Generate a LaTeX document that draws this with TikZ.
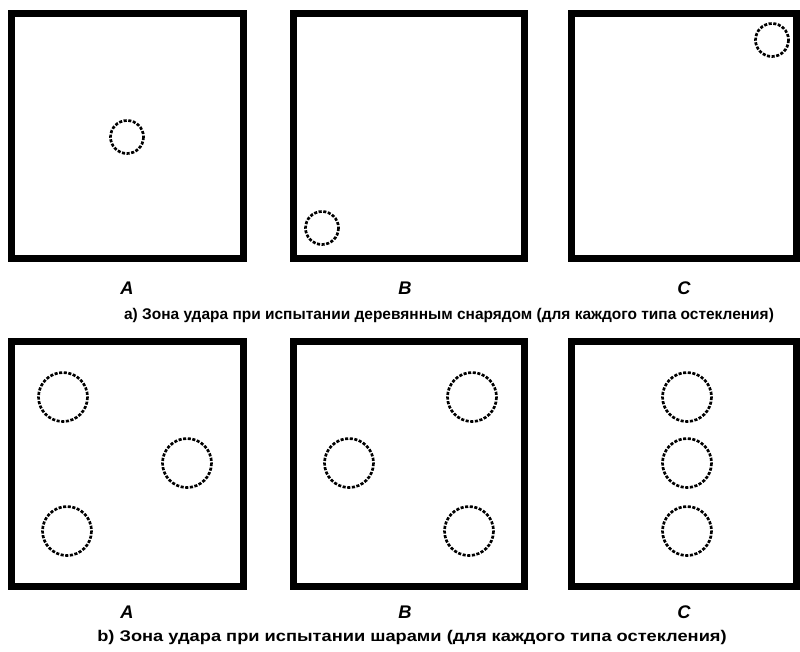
\documentclass[tikz,border=0pt]{standalone}
\usepackage{fontspec}
\setmainfont{Liberation Sans}
\usepackage{tikz}
\usetikzlibrary{positioning}

\begin{document}
\begin{tikzpicture}[x=0.025cm, y=-0.025cm,
  pane/.style={draw, line width=5pt},
  zone/.style={draw, line width=1.9pt, dash pattern=on 2.2pt off 1.1pt},
  tag/.style={font=\bfseries\itshape\fontsize{13}{13}\selectfont},
  caption/.style={font=\bfseries\fontsize{11}{12}\selectfont}]
  \useasboundingbox (0,0) rectangle (800,651);

  % a) wooden projectile
  \draw[pane] (11.5,13.5) rectangle (243.5,258.5);
  \draw[pane] (293.5,13.5) rectangle (524.5,258.5);
  \draw[pane] (571.5,13.5) rectangle (796.5,258.5);
  \draw[zone] (127,137) circle (16.5);
  \draw[zone] (322,228) circle (16.5);
  \draw[zone] (772,40) circle (16.5);

  \node[tag] (a1) at (127,288) {A};
  \node[tag] (b1) at (405,288) {B};
  \node[tag] (c1) at (684,288) {C};
  \node[caption] (capa) at (449,315)
    {а) Зона удара при испытании деревянным снарядом (для каждого типа остекления)};

  % b) balls
  \draw[pane] (11.5,341.5) rectangle (243.5,586.5);
  \draw[pane] (293.5,341.5) rectangle (524.5,586.5);
  \draw[pane] (571.5,341.5) rectangle (796.5,586.5);
  \foreach \cx/\cy in {63/397, 187/463, 67/531,
                       472/397, 349/463, 469/531,
                       687/397, 687/463, 687/531}
    \draw[zone] (\cx,\cy) circle (24.5);

  \node[tag] (a2) at (127,612) {A};
  \node[tag] (b2) at (405,612) {B};
  \node[tag] (c2) at (684,612) {C};
  \node[caption] (capb) at (412,637)
    {\scalebox{1.18}[1]{b) Зона удара при испытании шарами (для каждого типа остекления)}};
\end{tikzpicture}
\end{document}
